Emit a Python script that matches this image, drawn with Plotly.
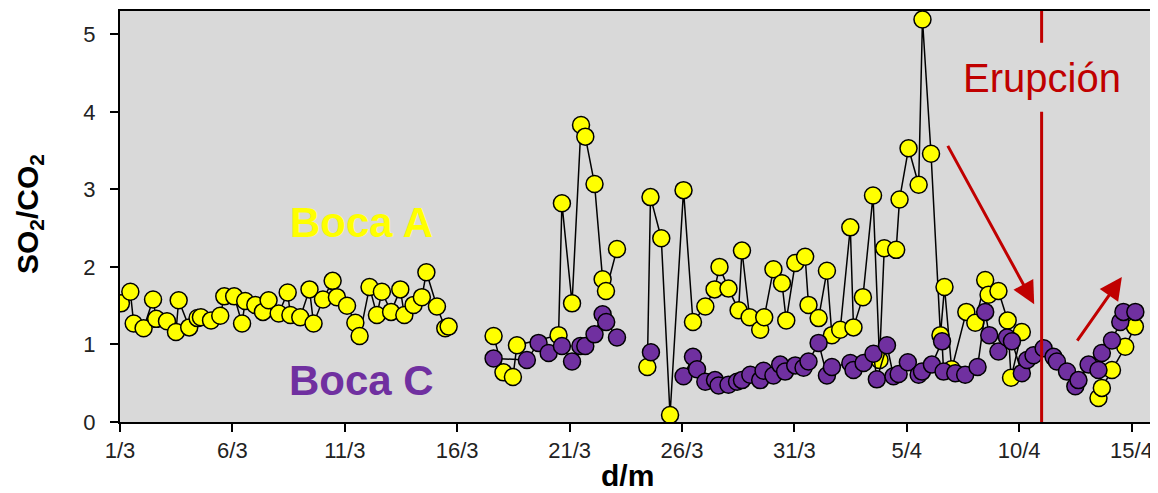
import plotly.graph_objects as go

# ---- data (days since 1 March) ----
tick_days = [0, 5, 10, 15, 20, 25, 30, 35, 40, 45]
tick_labels = ["1/3", "6/3", "11/3", "16/3", "21/3", "26/3", "31/3", "5/4", "10/4", "15/4"]
y_ticks = [0, 1, 2, 3, 4, 5]

boca_a_day = [
    0.04, 0.46, 0.61, 1.05, 1.47, 1.61, 2.09, 2.49, 2.61, 3.08, 3.45, 3.60, 4.05, 4.46, 4.64,
    5.08, 5.43, 5.57, 6.02, 6.36, 6.61, 7.06, 7.46, 7.58, 8.02, 8.43, 8.61, 9.03, 9.46, 9.65,
    10.10, 10.47, 10.66, 11.10, 11.43, 11.65, 12.06, 12.47, 12.65, 13.06, 13.43, 13.63, 14.10,
    14.47, 14.62, None,
    16.62, 17.06, 17.48, 17.66, 19.51, 19.66, 20.11, 20.51, 20.70, 21.11, 21.47, 21.62, 22.11, None,
    23.46, 23.60, 24.08, 24.47, 25.07, 25.49, 26.04, 26.45, 26.67, 27.07, 27.52, 27.67, 28.01,
    28.48, 28.66, 29.07, 29.45, 29.64, 30.04, 30.48, 30.63, 31.08, 31.45, 31.67, 32.04, 32.49,
    32.63, 33.05, 33.50, 33.79, 34.00, 34.53, 34.68, 35.08, 35.53, 35.70, 36.08, 36.50, 36.68,
    37.00, 37.65, 38.05, 38.49, 38.64, 39.08, 39.49, 39.64, 40.12, None,
    43.53, 43.68, 44.13, 44.72, 45.15,
]
boca_a_ratio = [
    1.53, 1.68, 1.27, 1.21, 1.58, 1.33, 1.30, 1.16, 1.57, 1.22, 1.34, 1.35, 1.31, 1.37, 1.62,
    1.62, 1.27, 1.56, 1.51, 1.42, 1.57, 1.40, 1.67, 1.38, 1.35, 1.71, 1.27, 1.58, 1.82, 1.61,
    1.50, 1.28, 1.11, 1.74, 1.38, 1.68, 1.42, 1.71, 1.38, 1.51, 1.61, 1.93, 1.49,
    1.21, 1.23, None,
    1.11, 0.64, 0.58, 0.99, 1.12, 2.82, 1.53, 3.83, 3.68, 3.07, 1.84, 1.69, 2.23, None,
    0.71, 2.90, 2.37, 0.09, 2.99, 1.29, 1.49, 1.71, 2.00, 1.72, 1.44, 2.21, 1.35,
    1.19, 1.35, 1.97, 1.79, 1.31, 2.05, 2.13, 1.51, 1.34, 1.95, 1.12, 1.19, 2.51,
    1.22, 1.61, 2.92, 0.80, 2.24, 2.22, 2.87, 3.53, 3.06, 5.19, 3.46, 1.12, 1.74,
    0.68, 1.42, 1.28, 1.83, 1.64, 1.69, 1.31, 0.57, 1.16, None,
    0.31, 0.44, 0.67, 0.97, 1.23,
]

boca_c_day = [
    16.62, 18.10, 18.62, 19.07, 19.66, 20.11, 20.48, 20.70, 21.11, 21.47, 21.63, 22.11, None,
    23.62, None,
    25.07, 25.49, 25.67, 26.04, 26.47, 26.63, 27.07, 27.45, 27.67, 28.04, 28.48, 28.63, 29.07,
    29.37, 29.59, 30.04, 30.41, 30.63, 31.08, 31.45, 31.67, 32.49, 32.63, 33.08, 33.52, 33.67,
    34.12, 34.41, 34.64, 35.05, 35.53, 35.68, 36.12, 36.57, 36.64, 37.16, 37.60, 38.15, 38.49,
    38.67, 39.08, 39.46, 39.68, 40.12, 40.35, 40.64, 41.09, 41.53, 41.68, 42.13, 42.50, 42.64,
    43.09, 43.53, 43.68, 44.13, 44.50, 44.64, 45.17,
]
boca_c_ratio = [
    0.82, 0.80, 1.02, 0.89, 0.98, 0.78, 0.98, 0.98, 1.13, 1.39, 1.29, 1.09, None,
    0.90, None,
    0.59, 0.84, 0.68, 0.52, 0.54, 0.47, 0.48, 0.52, 0.54, 0.61, 0.54, 0.66, 0.60,
    0.74, 0.65, 0.73, 0.70, 0.78, 1.02, 0.60, 0.71, 0.76, 0.67, 0.76, 0.88, 0.55,
    0.99, 0.59, 0.62, 0.77, 0.61, 0.65, 0.74, 1.04, 0.65, 0.63, 0.61, 0.71, 1.42,
    1.12, 0.91, 1.09, 1.04, 0.63, 0.80, 0.86, 0.95, 0.84, 0.78, 0.65, 0.46, 0.54,
    0.74, 0.67, 0.89, 1.05, 1.29, 1.42, 1.42,
]

eruption_day = 41.0

RED = "#c00000"
FONT = "Arial, Liberation Sans, sans-serif"

fig = go.Figure()
fig.add_trace(go.Scatter(
    x=boca_a_day, y=boca_a_ratio, mode="lines+markers", connectgaps=False,
    line=dict(color="black", width=1.5),
    marker=dict(size=17, color="#ffff00", line=dict(color="black", width=1.5)),
    showlegend=False,
))
fig.add_trace(go.Scatter(
    x=boca_c_day, y=boca_c_ratio, mode="lines+markers", connectgaps=False,
    line=dict(color="black", width=1.5),
    marker=dict(size=17, color="#7030a0", line=dict(color="black", width=1.5)),
    showlegend=False,
))

# eruption line (broken around the label)
fig.add_shape(type="line", xref="x", yref="y", x0=eruption_day, x1=eruption_day, y0=0, y1=4.0,
              line=dict(color=RED, width=3))
fig.add_shape(type="line", xref="x", yref="y", x0=eruption_day, x1=eruption_day, y0=4.89, y1=5.3,
              line=dict(color=RED, width=3))

annotations = [
    dict(x=eruption_day, y=4.44, xref="x", yref="y", text="Erupción", showarrow=False,
         font=dict(family=FONT, size=40, color=RED), xanchor="center", yanchor="middle"),
    dict(x=10.75, y=2.57, xref="x", yref="y", text="<b>Boca A</b>", showarrow=False,
         font=dict(family=FONT, size=42, color="#ffff00"), xanchor="center", yanchor="middle"),
    dict(x=10.75, y=0.54, xref="x", yref="y", text="<b>Boca C</b>", showarrow=False,
         font=dict(family=FONT, size=42, color="#7030a0"), xanchor="center", yanchor="middle"),
    dict(x=40.67, y=1.52, ax=36.79, ay=3.58, xref="x", yref="y", axref="x", ayref="y",
         text="", showarrow=True, arrowhead=2, arrowsize=1.5, arrowwidth=3, arrowcolor=RED),
    dict(x=44.57, y=1.87, ax=42.54, ay=1.03, xref="x", yref="y", axref="x", ayref="y",
         text="", showarrow=True, arrowhead=2, arrowsize=1.5, arrowwidth=3, arrowcolor=RED),
    dict(x=-0.088, y=0.506, xref="paper", yref="paper", text="<b>SO<sub>2</sub>/CO<sub>2</sub></b>",
         showarrow=False, textangle=-90, font=dict(family=FONT, size=30, color="black"),
         xanchor="center", yanchor="middle"),
    dict(x=0.4905, y=-0.13, xref="paper", yref="paper", text="<b>d/m</b>", showarrow=False,
         font=dict(family=FONT, size=30, color="black"), xanchor="center", yanchor="middle"),
]

# page body has an 8px margin: figure is sized and offset to compensate
fig.update_layout(
    width=1150, height=485,
    margin=dict(l=112, r=4, t=1, b=71),
    paper_bgcolor="white", plot_bgcolor="#d9d9d9",
    annotations=annotations,
    font=dict(family=FONT, color="black"),
)
fig.update_xaxes(
    range=[0, 46], tickmode="array", tickvals=tick_days, ticktext=tick_labels,
    showgrid=False, zeroline=False, showline=True, linecolor="black", linewidth=2, mirror=True,
    ticks="outside", ticklen=8, tickwidth=2, tickcolor="black",
    tickfont=dict(family=FONT, size=22, color="#222222"),
)
fig.update_yaxes(
    range=[0, 5.3], tickmode="array", tickvals=y_ticks,
    showgrid=False, zeroline=False, showline=True, linecolor="black", linewidth=2, mirror=True,
    ticks="outside", ticklen=8, tickwidth=2, tickcolor="black", ticklabelstandoff=10,
    tickfont=dict(family=FONT, size=22, color="#222222"),
)

fig.write_html("out.html")
